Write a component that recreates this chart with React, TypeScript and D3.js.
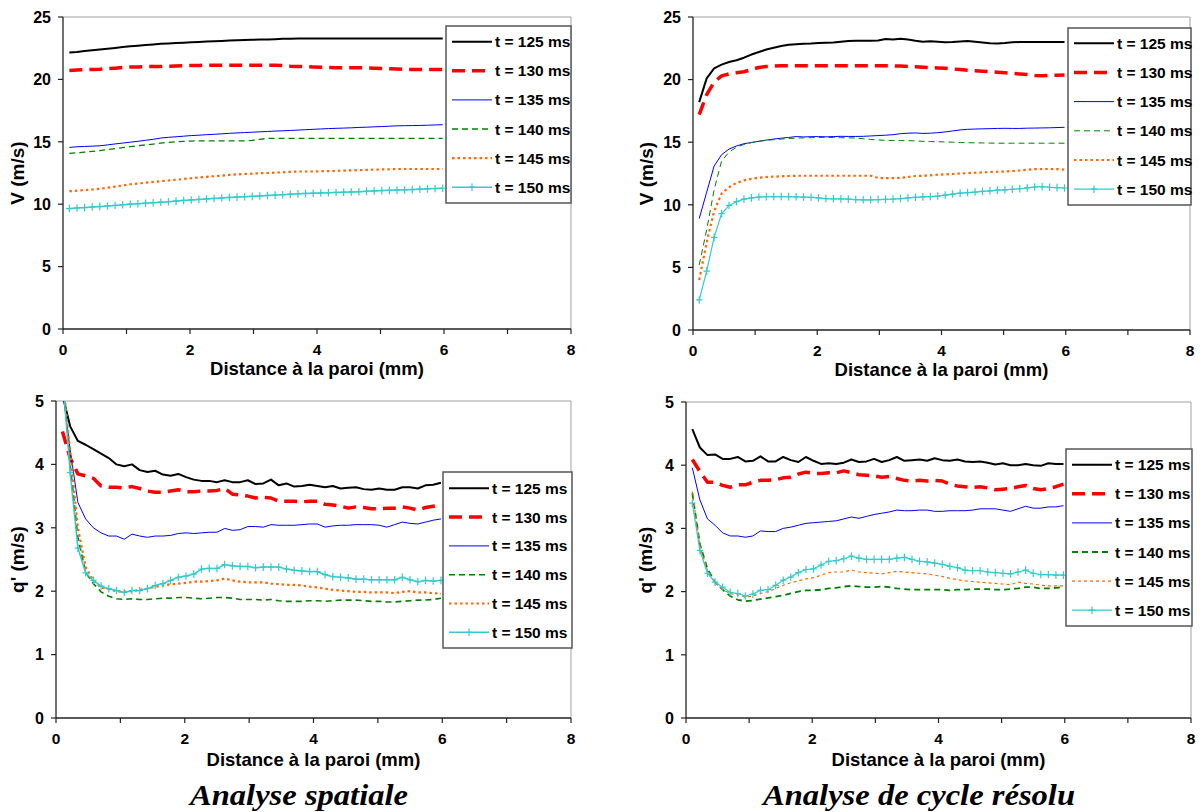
import React from 'react';
import * as d3 from 'd3';

// ---------- data ----------
const DIST = [0.10, 0.22, 0.34, 0.46, 0.58, 0.70, 0.82, 0.94, 1.06, 1.18, 1.30, 1.42, 1.54, 1.66, 1.78, 1.90, 2.02, 2.14, 2.26, 2.38, 2.50, 2.62, 2.74, 2.86, 2.98, 3.10, 3.22, 3.34, 3.46, 3.58, 3.70, 3.82, 3.94, 4.06, 4.18, 4.30, 4.42, 4.54, 4.66, 4.78, 4.90, 5.02, 5.14, 5.26, 5.38, 5.50, 5.62, 5.74, 5.86, 5.98];

const SERIES_LABELS = ['t = 125 ms', 't = 130 ms', 't = 135 ms', 't = 140 ms', 't = 145 ms', 't = 150 ms'];
const X_TICKS = [0, 1, 2, 3, 4, 5, 6, 7, 8];
const X_LABELS = [0, 2, 4, 6, 8];
const V_TICKS = [0, 5, 10, 15, 20, 25];
const Q_TICKS = [0, 1, 2, 3, 4, 5];
const X_TITLE = 'Distance à la paroi (mm)';
const V_TITLE = 'V (m/s)';
const Q_TITLE = "q' (m/s)";
const CAPTIONS = ['Analyse spatiale', 'Analyse de cycle résolu'];

// Top-left : V, spatial analysis
const V_SP_125 = [22.15, 22.2, 22.27, 22.33, 22.4, 22.46, 22.52, 22.59, 22.65, 22.7, 22.75, 22.8, 22.85, 22.88, 22.91, 22.94, 22.97, 23.0, 23.03, 23.06, 23.08, 23.11, 23.13, 23.15, 23.17, 23.19, 23.2, 23.22, 23.25, 23.26, 23.27, 23.28, 23.28, 23.28, 23.28, 23.28, 23.28, 23.28, 23.28, 23.28, 23.28, 23.28, 23.28, 23.28, 23.28, 23.28, 23.28, 23.28, 23.28, 23.28];
const V_SP_130 = [20.72, 20.75, 20.78, 20.8, 20.82, 20.86, 20.9, 20.95, 20.99, 21.0, 21.02, 21.03, 21.04, 21.05, 21.07, 21.09, 21.11, 21.12, 21.13, 21.14, 21.14, 21.14, 21.14, 21.14, 21.14, 21.14, 21.14, 21.14, 21.12, 21.06, 21.04, 21.02, 21.0, 20.97, 20.95, 20.94, 20.93, 20.93, 20.93, 20.92, 20.9, 20.88, 20.86, 20.83, 20.8, 20.8, 20.8, 20.8, 20.8, 20.8];
const V_SP_135 = [14.55, 14.6, 14.63, 14.65, 14.68, 14.75, 14.83, 14.9, 14.97, 15.04, 15.12, 15.2, 15.3, 15.36, 15.4, 15.45, 15.5, 15.53, 15.57, 15.6, 15.64, 15.68, 15.71, 15.74, 15.77, 15.8, 15.83, 15.86, 15.88, 15.91, 15.94, 15.97, 16.0, 16.03, 16.06, 16.08, 16.1, 16.12, 16.15, 16.17, 16.2, 16.22, 16.25, 16.28, 16.29, 16.3, 16.31, 16.33, 16.35, 16.37];
const V_SP_140 = [14.07, 14.12, 14.17, 14.23, 14.29, 14.37, 14.45, 14.53, 14.61, 14.68, 14.75, 14.82, 14.9, 14.96, 15.0, 15.03, 15.06, 15.08, 15.08, 15.08, 15.08, 15.08, 15.08, 15.08, 15.12, 15.2, 15.27, 15.27, 15.27, 15.27, 15.27, 15.27, 15.27, 15.27, 15.27, 15.27, 15.27, 15.27, 15.27, 15.27, 15.27, 15.27, 15.27, 15.27, 15.27, 15.27, 15.27, 15.27, 15.27, 15.27];
const V_SP_145 = [11.04, 11.08, 11.13, 11.18, 11.23, 11.32, 11.41, 11.5, 11.6, 11.66, 11.72, 11.78, 11.85, 11.9, 11.96, 12.02, 12.08, 12.14, 12.19, 12.24, 12.29, 12.35, 12.39, 12.42, 12.45, 12.48, 12.5, 12.53, 12.56, 12.59, 12.62, 12.62, 12.62, 12.64, 12.65, 12.67, 12.69, 12.71, 12.73, 12.75, 12.77, 12.79, 12.8, 12.82, 12.82, 12.82, 12.82, 12.82, 12.82, 12.82];
const V_SP_150 = [9.65, 9.7, 9.73, 9.77, 9.81, 9.86, 9.9, 9.96, 10.0, 10.04, 10.08, 10.12, 10.16, 10.2, 10.25, 10.3, 10.34, 10.38, 10.42, 10.46, 10.5, 10.54, 10.57, 10.6, 10.63, 10.66, 10.7, 10.73, 10.76, 10.8, 10.83, 10.86, 10.88, 10.9, 10.92, 10.94, 10.96, 10.98, 11.0, 11.03, 11.06, 11.09, 11.11, 11.13, 11.15, 11.17, 11.2, 11.23, 11.26, 11.28];

// Top-right : V, cycle-resolved analysis
const V_CR_125 = [18.2, 20.1, 20.9, 21.2, 21.4, 21.55, 21.75, 22.0, 22.2, 22.4, 22.55, 22.68, 22.78, 22.83, 22.86, 22.88, 22.92, 22.95, 22.97, 23.03, 23.09, 23.1, 23.1, 23.1, 23.12, 23.25, 23.2, 23.27, 23.2, 23.1, 23.02, 23.06, 23.02, 22.98, 23.0, 23.05, 23.08, 23.02, 22.97, 22.9, 22.88, 22.92, 22.98, 23.0, 23.0, 23.0, 23.0, 23.0, 23.0, 23.0];
const V_CR_130 = [17.2, 18.8, 19.8, 20.3, 20.45, 20.55, 20.63, 20.8, 20.97, 21.05, 21.08, 21.1, 21.1, 21.1, 21.1, 21.1, 21.1, 21.1, 21.1, 21.1, 21.1, 21.1, 21.1, 21.1, 21.1, 21.1, 21.1, 21.08, 21.05, 21.02, 20.98, 20.95, 20.93, 20.9, 20.85, 20.8, 20.75, 20.7, 20.66, 20.63, 20.58, 20.54, 20.5, 20.45, 20.4, 20.33, 20.3, 20.33, 20.35, 20.36];
const V_CR_135 = [8.9, 11.0, 13.1, 14.0, 14.45, 14.7, 14.88, 14.97, 15.07, 15.17, 15.25, 15.32, 15.38, 15.45, 15.42, 15.44, 15.45, 15.43, 15.45, 15.47, 15.46, 15.46, 15.47, 15.5, 15.53, 15.56, 15.6, 15.68, 15.72, 15.74, 15.7, 15.72, 15.76, 15.82, 15.9, 15.98, 16.03, 16.05, 16.07, 16.08, 16.1, 16.11, 16.1, 16.1, 16.12, 16.13, 16.14, 16.15, 16.17, 16.19];
const V_CR_140 = [5.2, 8.0, 11.2, 13.5, 14.2, 14.6, 14.82, 14.97, 15.08, 15.15, 15.2, 15.25, 15.3, 15.32, 15.35, 15.36, 15.38, 15.38, 15.37, 15.36, 15.35, 15.33, 15.28, 15.22, 15.18, 15.15, 15.14, 15.13, 15.12, 15.1, 15.07, 15.05, 15.04, 15.02, 15.0, 14.97, 14.96, 14.95, 14.94, 14.93, 14.92, 14.92, 14.92, 14.92, 14.92, 14.92, 14.92, 14.92, 14.92, 14.92];
const V_CR_145 = [4.0, 7.0, 9.5, 10.9, 11.4, 11.75, 11.95, 12.07, 12.17, 12.22, 12.25, 12.27, 12.3, 12.32, 12.32, 12.32, 12.32, 12.32, 12.32, 12.32, 12.32, 12.32, 12.32, 12.32, 12.15, 12.13, 12.13, 12.15, 12.22, 12.3, 12.32, 12.35, 12.4, 12.43, 12.46, 12.5, 12.53, 12.56, 12.59, 12.62, 12.64, 12.66, 12.7, 12.74, 12.8, 12.85, 12.86, 12.86, 12.85, 12.8];
const V_CR_150 = [2.4, 4.7, 7.4, 9.3, 9.95, 10.25, 10.45, 10.55, 10.62, 10.65, 10.66, 10.66, 10.65, 10.64, 10.62, 10.6, 10.55, 10.5, 10.48, 10.47, 10.45, 10.42, 10.4, 10.4, 10.42, 10.43, 10.45, 10.5, 10.55, 10.6, 10.63, 10.66, 10.7, 10.78, 10.86, 10.93, 10.98, 11.02, 11.07, 11.12, 11.17, 11.2, 11.24, 11.28, 11.35, 11.42, 11.45, 11.4, 11.37, 11.34];

// Bottom-left : q', spatial analysis
const Q_SP_125 = [5.1, 4.6, 4.37, 4.31, 4.24, 4.17, 4.1, 4.0, 3.97, 4.0, 3.91, 3.88, 3.9, 3.84, 3.82, 3.85, 3.8, 3.76, 3.74, 3.74, 3.72, 3.75, 3.72, 3.72, 3.75, 3.69, 3.7, 3.76, 3.67, 3.7, 3.65, 3.66, 3.68, 3.66, 3.64, 3.66, 3.62, 3.63, 3.64, 3.61, 3.6, 3.62, 3.6, 3.6, 3.64, 3.64, 3.62, 3.67, 3.68, 3.71];
const Q_SP_130 = [4.52, 4.1, 3.85, 3.82, 3.78, 3.66, 3.64, 3.64, 3.63, 3.65, 3.62, 3.58, 3.56, 3.56, 3.58, 3.6, 3.57, 3.57, 3.58, 3.58, 3.59, 3.62, 3.53, 3.52, 3.5, 3.47, 3.48, 3.47, 3.42, 3.42, 3.42, 3.41, 3.42, 3.42, 3.37, 3.36, 3.34, 3.31, 3.33, 3.32, 3.3, 3.3, 3.31, 3.31, 3.33, 3.31, 3.28, 3.32, 3.34, 3.36];
const Q_SP_135 = [5.2, 4.23, 3.4, 3.14, 3.0, 2.92, 2.87, 2.87, 2.82, 2.9, 2.87, 2.85, 2.87, 2.87, 2.88, 2.91, 2.92, 2.91, 2.92, 2.93, 2.93, 2.99, 2.96, 2.97, 3.02, 3.02, 3.01, 3.05, 3.04, 3.04, 3.04, 3.05, 3.06, 3.06, 3.01, 3.03, 3.04, 3.04, 3.05, 3.05, 3.05, 3.04, 3.01, 3.05, 3.09, 3.07, 3.06, 3.09, 3.12, 3.14];
const Q_SP_140 = [5.4, 4.0, 2.85, 2.3, 2.12, 1.99, 1.92, 1.88, 1.87, 1.88, 1.87, 1.87, 1.88, 1.89, 1.89, 1.9, 1.9, 1.89, 1.88, 1.89, 1.9, 1.9, 1.89, 1.87, 1.87, 1.87, 1.86, 1.87, 1.85, 1.84, 1.84, 1.84, 1.85, 1.85, 1.84, 1.85, 1.86, 1.86, 1.86, 1.85, 1.84, 1.84, 1.83, 1.83, 1.84, 1.85, 1.86, 1.86, 1.87, 1.89];
const Q_SP_145 = [5.4, 4.2, 3.0, 2.38, 2.17, 2.06, 2.03, 2.0, 1.99, 2.0, 2.02, 2.04, 2.07, 2.09, 2.11, 2.12, 2.13, 2.15, 2.15, 2.16, 2.17, 2.2, 2.17, 2.15, 2.14, 2.14, 2.14, 2.12, 2.11, 2.1, 2.1, 2.09, 2.07, 2.06, 2.04, 2.02, 2.01, 2.0, 1.99, 1.99, 1.98, 1.98, 1.98, 1.97, 1.99, 2.0, 1.98, 1.98, 1.97, 1.96];
const Q_SP_150 = [5.4, 3.87, 2.68, 2.29, 2.17, 2.08, 2.04, 2.01, 1.98, 2.01, 2.01, 2.04, 2.09, 2.12, 2.17, 2.22, 2.24, 2.27, 2.35, 2.36, 2.36, 2.42, 2.4, 2.39, 2.39, 2.37, 2.38, 2.38, 2.38, 2.35, 2.33, 2.32, 2.31, 2.31, 2.26, 2.23, 2.22, 2.21, 2.19, 2.19, 2.18, 2.18, 2.18, 2.18, 2.22, 2.18, 2.15, 2.17, 2.16, 2.17];

// Bottom-right : q', cycle-resolved analysis
const Q_CR_125 = [4.57, 4.28, 4.16, 4.17, 4.1, 4.1, 4.13, 4.06, 4.07, 4.14, 4.06, 4.06, 4.13, 4.08, 4.05, 4.13, 4.07, 4.02, 4.03, 4.02, 4.04, 4.09, 4.05, 4.06, 4.1, 4.05, 4.08, 4.13, 4.07, 4.08, 4.09, 4.07, 4.11, 4.08, 4.07, 4.09, 4.06, 4.05, 4.06, 4.04, 4.01, 4.03, 4.0, 4.0, 4.02, 4.0, 3.99, 4.03, 4.02, 4.02];
const Q_CR_130 = [4.09, 3.9, 3.73, 3.73, 3.68, 3.65, 3.69, 3.69, 3.73, 3.76, 3.76, 3.77, 3.8, 3.81, 3.86, 3.89, 3.87, 3.87, 3.88, 3.88, 3.91, 3.88, 3.85, 3.84, 3.83, 3.81, 3.82, 3.79, 3.76, 3.75, 3.76, 3.75, 3.76, 3.75, 3.7, 3.67, 3.66, 3.65, 3.66, 3.64, 3.61, 3.62, 3.63, 3.66, 3.68, 3.63, 3.61, 3.63, 3.66, 3.7];
const Q_CR_135 = [3.96, 3.45, 3.15, 3.05, 2.93, 2.88, 2.88, 2.86, 2.88, 2.96, 2.95, 2.95, 3.0, 3.02, 3.05, 3.08, 3.09, 3.1, 3.11, 3.12, 3.15, 3.18, 3.16, 3.19, 3.22, 3.24, 3.26, 3.29, 3.28, 3.28, 3.29, 3.29, 3.27, 3.27, 3.28, 3.28, 3.28, 3.29, 3.31, 3.31, 3.31, 3.29, 3.27, 3.31, 3.35, 3.32, 3.32, 3.34, 3.34, 3.36];
const Q_CR_140 = [3.56, 2.75, 2.36, 2.15, 2.03, 1.93, 1.87, 1.85, 1.86, 1.88, 1.9, 1.92, 1.94, 1.97, 2.0, 2.02, 2.02, 2.03, 2.05, 2.06, 2.08, 2.09, 2.08, 2.07, 2.07, 2.08, 2.07, 2.05, 2.04, 2.03, 2.03, 2.03, 2.03, 2.03, 2.02, 2.03, 2.03, 2.04, 2.04, 2.04, 2.03, 2.03, 2.04, 2.05, 2.07, 2.07, 2.05, 2.05, 2.06, 2.07];
const Q_CR_145 = [3.58, 2.72, 2.33, 2.14, 2.03, 1.97, 1.95, 1.91, 1.93, 1.97, 2.0, 2.05, 2.1, 2.14, 2.17, 2.2, 2.22, 2.26, 2.3, 2.31, 2.31, 2.34, 2.31, 2.3, 2.29, 2.28, 2.3, 2.32, 2.31, 2.3, 2.29, 2.28, 2.26, 2.24, 2.21, 2.19, 2.17, 2.16, 2.15, 2.14, 2.13, 2.12, 2.11, 2.15, 2.13, 2.12, 2.1, 2.09, 2.09, 2.09];
const Q_CR_150 = [3.4, 2.65, 2.29, 2.15, 2.07, 1.99, 1.97, 1.93, 1.96, 2.02, 2.03, 2.1, 2.18, 2.23, 2.3, 2.35, 2.36, 2.42, 2.48, 2.49, 2.52, 2.56, 2.53, 2.51, 2.51, 2.51, 2.51, 2.53, 2.54, 2.51, 2.48, 2.47, 2.45, 2.43, 2.4, 2.38, 2.34, 2.33, 2.33, 2.31, 2.3, 2.29, 2.28, 2.31, 2.34, 2.29, 2.27, 2.27, 2.26, 2.26];

// ---------- styles ----------
type Sty = { color: string; width: number; dash?: string; marker?: boolean };
const BASE_STYLES: Sty[] = [
  { color: '#000000', width: 2 },
  { color: '#ff0000', width: 3.5, dash: '13,7' },
  { color: '#0000ff', width: 1 },
  { color: '#008000', width: 1.3, dash: '6,4' },
  { color: '#ff6600', width: 2.2, dash: '2.5,3' },
  { color: '#33cccc', width: 1.5, marker: true },
];

type PanelCfg = {
  id: string;
  left: number; right: number; top: number; bottom: number;
  yMax: number; yTicks: number[]; yTitle: string; yTitleX: number;
  xTitleY: number;
  series: number[][];
  legend: { x: number; y: number; w: number; h: number; row0: number; step: number };
  styles: Sty[];
};

const PANELS: PanelCfg[] = [
  {
    id: 'tl', left: 63, right: 571, top: 17, bottom: 329,
    yMax: 25, yTicks: V_TICKS, yTitle: V_TITLE, yTitleX: 17, xTitleY: 375,
    series: [V_SP_125, V_SP_130, V_SP_135, V_SP_140, V_SP_145, V_SP_150],
    legend: { x: 446, y: 26, w: 125, h: 177, row0: 15.7, step: 29.1 },
    styles: BASE_STYLES,
  },
  {
    id: 'tr', left: 693, right: 1190, top: 17, bottom: 330,
    yMax: 25, yTicks: V_TICKS, yTitle: V_TITLE, yTitleX: 646, xTitleY: 376,
    series: [V_CR_125, V_CR_130, V_CR_135, V_CR_140, V_CR_145, V_CR_150],
    legend: { x: 1068, y: 28, w: 123, h: 177, row0: 15.2, step: 29.2 },
    styles: BASE_STYLES.map((s, i) => (i === 3 ? { ...s, width: 1 } : i === 5 ? { ...s, width: 1.2 } : s)),
  },
  {
    id: 'bl', left: 56, right: 571, top: 401, bottom: 718,
    yMax: 5, yTicks: Q_TICKS, yTitle: Q_TITLE, yTitleX: 17, xTitleY: 766,
    series: [Q_SP_125, Q_SP_130, Q_SP_135, Q_SP_140, Q_SP_145, Q_SP_150],
    legend: { x: 443, y: 472, w: 129, h: 176, row0: 16.3, step: 28.8 },
    styles: BASE_STYLES.map((s, i) => (i === 3 ? { ...s, width: 1.6 } : s)),
  },
  {
    id: 'br', left: 686, right: 1191, top: 402, bottom: 718,
    yMax: 5, yTicks: Q_TICKS, yTitle: Q_TITLE, yTitleX: 645, xTitleY: 766,
    series: [Q_CR_125, Q_CR_130, Q_CR_135, Q_CR_140, Q_CR_145, Q_CR_150],
    legend: { x: 1066, y: 449, w: 126, h: 177, row0: 15.7, step: 29.1 },
    styles: BASE_STYLES.map((s, i) => (i === 3 ? { ...s, width: 1.8 } : i === 4 ? { ...s, width: 1.2, dash: '3,3' } : i === 5 ? { ...s, width: 1.2 } : s)),
  },
];

const FONT = "'Liberation Sans', Arial, sans-serif";
const SERIF = "'Liberation Serif', 'Times New Roman', serif";

function Plus({ x, y, color }: { x: number; y: number; color: string }) {
  return (
    <path d={`M${x - 3.2},${y}H${x + 3.2}M${x},${y - 3.8}V${y + 3.8}`} stroke={color} strokeWidth={1.2} fill="none" />
  );
}

function Panel({ cfg }: { cfg: PanelCfg }) {
  const x = d3.scaleLinear().domain([0, 8]).range([cfg.left, cfg.right]);
  const y = d3.scaleLinear().domain([0, cfg.yMax]).range([cfg.bottom, cfg.top]);
  const line = d3.line<number>().x((_, i) => x(DIST[i])).y((v) => y(v));
  const L = cfg.legend;
  const clipId = `clip-${cfg.id}`;
  const cx = (cfg.left + cfg.right) / 2;
  const cy = (cfg.top + cfg.bottom) / 2;
  return (
    <g>
      <defs>
        <clipPath id={clipId}>
          <rect x={cfg.left} y={cfg.top} width={cfg.right - cfg.left} height={cfg.bottom - cfg.top} />
        </clipPath>
      </defs>
      {/* frame */}
      <line x1={cfg.left} x2={cfg.right} y1={cfg.top} y2={cfg.top} stroke="#a0a0a0" strokeWidth={1} />
      <line x1={cfg.right} x2={cfg.right} y1={cfg.top} y2={cfg.bottom} stroke="#a0a0a0" strokeWidth={1} />
      {/* series */}
      <g clipPath={`url(#${clipId})`}>
        {cfg.series.map((s, si) => {
          const st = cfg.styles[si];
          return (
            <g key={si}>
              <path d={line(s) || ''} fill="none" stroke={st.color} strokeWidth={st.width}
                strokeDasharray={st.dash} strokeLinejoin="round" />
              {st.marker && s.map((v, i) => <Plus key={i} x={x(DIST[i])} y={y(v)} color={st.color} />)}
            </g>
          );
        })}
      </g>
      {/* axes */}
      <line x1={cfg.left} x2={cfg.right} y1={cfg.bottom} y2={cfg.bottom} stroke="#222" strokeWidth={1.3} />
      <line x1={cfg.left} x2={cfg.left} y1={cfg.top} y2={cfg.bottom} stroke="#222" strokeWidth={1.3} />
      {X_TICKS.map((t) => (
        <line key={t} x1={x(t)} x2={x(t)} y1={cfg.bottom} y2={cfg.bottom + 5} stroke="#222" strokeWidth={1.2} />
      ))}
      {X_LABELS.map((t) => (
        <text key={t} x={x(t)} y={cfg.bottom + 26} textAnchor="middle" fontFamily={FONT} fontWeight="bold" fontSize={15.5} fill="#000">{t}</text>
      ))}
      {cfg.yTicks.map((t) => (
        <g key={t}>
          <line x1={cfg.left - 5} x2={cfg.left} y1={y(t)} y2={y(t)} stroke="#222" strokeWidth={1.2} />
          <text x={cfg.left - 12} y={y(t)} dy="0.36em" textAnchor="end" fontFamily={FONT} fontWeight="bold" fontSize={16} fill="#000">{t}</text>
        </g>
      ))}
      <text x={cx} y={cfg.xTitleY} textAnchor="middle" fontFamily={FONT} fontWeight="bold" fontSize={18.5} fill="#000">{X_TITLE}</text>
      <text transform={`translate(${cfg.yTitleX},${cy}) rotate(-90)`} textAnchor="middle" dy="0.36em" fontFamily={FONT} fontWeight="bold" fontSize={19} fill="#000">{cfg.yTitle}</text>
      {/* legend */}
      <rect x={L.x} y={L.y} width={L.w} height={L.h} fill="#fff" stroke="#555" strokeWidth={1.5} />
      {SERIES_LABELS.map((lab, i) => {
        const st = cfg.styles[i];
        const ry = L.y + L.row0 + i * L.step;
        const x1 = L.x + 6;
        const x2 = L.x + 46;
        return (
          <g key={lab}>
            <line x1={x1} x2={x2} y1={ry} y2={ry} stroke={st.color} strokeWidth={st.width} strokeDasharray={st.dash} />
            {st.marker && <Plus x={(x1 + x2) / 2} y={ry} color={st.color} />}
            <text x={L.x + 49} y={ry} dy="0.36em" fontFamily={FONT} fontWeight="bold" fontSize={15.5} fill="#000">{lab}</text>
          </g>
        );
      })}
    </g>
  );
}

export default function App() {
  return (
    <svg width={1201} height={812} viewBox="0 0 1201 812"
      style={{ position: 'absolute', left: 0, top: 0, background: '#fff' }}>
      <rect x={0} y={0} width={1201} height={812} fill="#fff" />
      {PANELS.map((p) => <Panel key={p.id} cfg={p} />)}
      <text x={299} y={805} textAnchor="middle" fontFamily={SERIF} textLength={218} lengthAdjust="spacingAndGlyphs"
        fontWeight="bold" fontStyle="italic" fontSize={30} fill="#000">{CAPTIONS[0]}</text>
      <text x={919} y={805} textAnchor="middle" fontFamily={SERIF} textLength={312} lengthAdjust="spacingAndGlyphs"
        fontWeight="bold" fontStyle="italic" fontSize={30} fill="#000">{CAPTIONS[1]}</text>
    </svg>
  );
}
